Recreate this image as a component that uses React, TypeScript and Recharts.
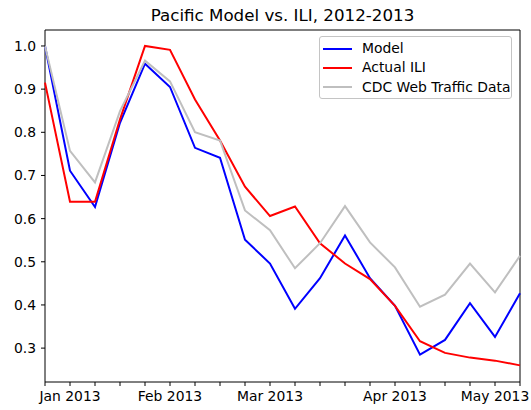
import React from "react";
import { LineChart, Line, XAxis, YAxis, ReferenceArea } from "recharts";

const weeks = ["Dec 30", "Jan 6", "Jan 13", "Jan 20", "Jan 27", "Feb 3", "Feb 10", "Feb 17", "Feb 24", "Mar 3", "Mar 10", "Mar 17", "Mar 24", "Mar 31", "Apr 7", "Apr 14", "Apr 21", "Apr 28", "May 5", "May 12"];
const model = [1.0, 0.711, 0.627, 0.822, 0.959, 0.905, 0.764, 0.741, 0.551, 0.496, 0.391, 0.462, 0.561, 0.462, 0.398, 0.285, 0.319, 0.404, 0.326, 0.427];
const actualILI = [0.915, 0.639, 0.639, 0.83, 1.0, 0.991, 0.876, 0.781, 0.674, 0.606, 0.628, 0.543, 0.496, 0.46, 0.398, 0.316, 0.289, 0.278, 0.271, 0.26];
const cdcWeb = [1.0, 0.757, 0.684, 0.849, 0.966, 0.918, 0.8, 0.781, 0.619, 0.573, 0.485, 0.543, 0.629, 0.545, 0.487, 0.396, 0.424, 0.496, 0.429, 0.514];
const monthTickLabels: Record<number, string> = { 1: "Jan 2013", 5: "Feb 2013", 9: "Mar 2013", 14: "Apr 2013", 18: "May 2013" };
const yTicks = [0.3, 0.4, 0.5, 0.6, 0.7, 0.8, 0.9, 1.0];
const seriesNames = ["Model", "Actual ILI", "CDC Web Traffic Data"];
const seriesColors = ["#0000ff", "#ff0000", "#bfbfbf"];

const Y_MIN = 0.2215;
const Y_MAX = 1.037;

const data = weeks.map((w, i) => ({
  i,
  week: w,
  model: model[i],
  actual: actualILI[i],
  cdc: cdcWeb[i],
}));

const font = "'DejaVu Sans', sans-serif";

const LegendBox = () => (
  <div
    style={{
      position: "absolute",
      left: 319,
      top: 36,
      width: 193,
      height: 63,
      boxSizing: "border-box",
      borderWidth: 1,
      borderStyle: "solid",
      borderColor: "#c4c4c4",
      borderRadius: 3,
      backgroundColor: "rgba(255,255,255,0.8)",
      fontFamily: font,
      fontSize: 13.9,
      color: "#000",
      paddingTop: 2,
      whiteSpace: "nowrap",
      zIndex: 5,
    }}
  >
    {seriesNames.map((n, k) => (
      <div key={n} style={{ display: "flex", alignItems: "center", height: 19.3, marginLeft: 3 }}>
        <div style={{ width: 29, height: 2, background: seriesColors[k], marginRight: 10, flexShrink: 0 }} />
        <span style={{ lineHeight: "19px" }}>{n}</span>
      </div>
    ))}
  </div>
);

export default function App() {
  return (
    <div style={{ position: "absolute", left: 0, top: 0, width: 531, height: 410, background: "#fff" }}>
      <div
        style={{
          position: "absolute",
          left: 45,
          width: 475,
          top: 5,
          textAlign: "center",
          fontFamily: font,
          fontSize: 16.7,
          color: "#000",
          lineHeight: "20px",
        }}
      >
        Pacific Model vs. ILI, 2012-2013
      </div>
      <LineChart width={531} height={410} data={data} margin={{ top: 30, right: 11, bottom: 0, left: 5 }}>
        <XAxis
          dataKey="i"
          type="number"
          domain={[0, 19]}
          ticks={weeks.map((_, i) => i)}
          interval={0}
          tickFormatter={(v: number) => monthTickLabels[v] || ""}
          height={28}
          tickSize={4}
          tickMargin={5}
          axisLine={false}
          tickLine={{ stroke: "#000", strokeWidth: 1 }}
          tick={{ fill: "#000", fontSize: 13.9, fontFamily: font }}
        />
        <YAxis
          type="number"
          domain={[Y_MIN, Y_MAX]}
          ticks={yTicks}
          allowDataOverflow
          interval={0}
          tickFormatter={(v: number) => v.toFixed(1)}
          width={40}
          tickSize={4}
          tickMargin={5}
          axisLine={false}
          tickLine={{ stroke: "#000", strokeWidth: 1 }}
          tick={{ fill: "#000", fontSize: 13.9, fontFamily: font }}
        />
        <Line dataKey="model" name={seriesNames[0]} stroke={seriesColors[0]} strokeWidth={2} dot={false} isAnimationActive={false} />
        <Line dataKey="actual" name={seriesNames[1]} stroke={seriesColors[1]} strokeWidth={2} dot={false} isAnimationActive={false} />
        <Line dataKey="cdc" name={seriesNames[2]} stroke={seriesColors[2]} strokeWidth={2} dot={false} isAnimationActive={false} />
        <ReferenceArea x1={0} x2={19} y1={Y_MIN} y2={Y_MAX} fill="none" stroke="#000" strokeWidth={1} ifOverflow="visible" />
      </LineChart>
      <LegendBox />
    </div>
  );
}
